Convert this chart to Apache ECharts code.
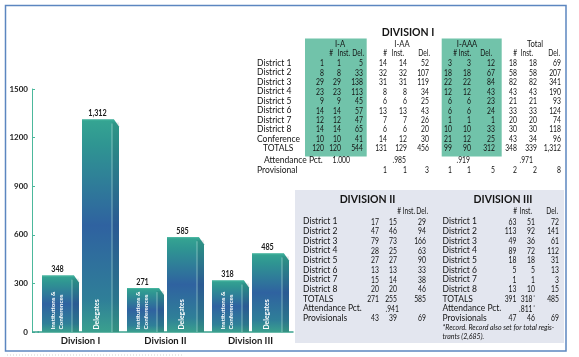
<!DOCTYPE html>
<html><head><meta charset="utf-8">
<script src="https://cdn.jsdelivr.net/npm/echarts@6/dist/echarts.min.js"></script>
<style>html,body{margin:0;padding:0;background:#fff}#c{width:579px;height:357px}</style>
</head><body><div id="c"></div>
<script>
// ---------- DATA ----------
const divisions = ['Division I', 'Division II', 'Division III'];
const instValues = [348, 271, 318];
const delValues = [1312, 585, 485];
const yMin = 0, yMax = 1500, yStep = 300;

// Division I table
const d1RowLabels = ['District 1','District 2','District 3','District 4','District 5','District 6','District 7','District 8','Conference','TOTALS'];
const d1Groups = ['I-A','I-AA','I-AAA','Total'];
const d1SubHeads = ['#','Inst.','Del.'];
const d1IA    = [[1,1,5],[8,8,33],[29,29,138],[23,23,113],[9,9,45],[14,14,57],[12,12,47],[14,14,65],[10,10,41],[120,120,544]];
const d1IAA   = [[14,14,52],[32,32,107],[31,31,119],[8,8,34],[6,6,25],[13,13,43],[7,7,26],[6,6,20],[14,12,30],[131,129,456]];
const d1IAAA  = [[3,3,12],[18,18,67],[22,22,84],[12,12,43],[6,6,23],[6,6,24],[1,1,1],[10,10,33],[21,12,25],[99,90,312]];
const d1Total = [[18,18,69],[58,58,207],[82,82,341],[43,43,190],[21,21,93],[33,33,124],[20,20,74],[30,30,118],[43,34,96],[348,339,1312]];
const d1Attendance = ['1.000','.985','.919','.971'];
const d1Provisional = [null,[1,1,3],[1,1,5],[2,2,8]];

// Division II table
const d2RowLabels = ['District 1','District 2','District 3','District 4','District 5','District 6','District 7','District 8','TOTALS'];
const d2Values = [[17,15,29],[47,46,94],[79,73,166],[28,25,63],[27,27,90],[13,13,33],[15,14,38],[20,20,46],[271,255,585]];
const d2Attendance = '.941';
const d2Provisional = [43,39,69];

// Division III table
const d3RowLabels = ['District 1','District 2','District 3','District 4','District 5','District 6','District 7','District 8','TOTALS'];
const d3Values = [[63,51,72],[113,92,141],[49,36,61],[89,72,112],[18,18,31],[5,5,13],[1,1,3],[13,10,15],[391,'318*',485]];
const d3Attendance = '.811*';
const d3Provisional = [47,46,69];
const d3Footnote = ['*Record. Record also set for total regis-', 'trants (2,685).'];

// ---------- HELPERS ----------
const FONT = 'Lato';
const NUM_SX = 0.74, HEAD_SX = 0.78;
const fmt = v => (typeof v === 'number') ? v.toLocaleString('en-US') : String(v);
function T(text, x, y, o) {
  o = o || {};
  const s = o.size || 8.5, w = o.weight || 'normal', st = o.style || 'normal';
  const str = fmt(text);
  const style = {
    fill: o.fill || '#141414',
    font: st + ' ' + w + ' ' + s + 'px ' + FONT,
    align: o.align || 'right', textAlign: o.align || 'right',
    verticalAlign: 'middle', textVerticalAlign: 'middle'
  };
  if (str.indexOf('*') > 0) {
    const parts = str.split('*');
    style.text = '{n|' + parts[0] + '}{s|*}';
    style.rich = {
      n: { font: st + ' ' + w + ' ' + s + 'px ' + FONT, fill: style.fill },
      s: { font: 'normal 5.5px ' + FONT, fill: style.fill, verticalAlign: 'top', padding: [0,0,3,1] }
    };
  } else style.text = str;
  return { type: 'text', x: x, y: y, scaleX: o.sx || 1, silent: true, z: 10, style: style };
}
const N = (v, x, y) => T(v, x, y, { sx: NUM_SX, size: 9.2 });

const els = [];
// outer frame
els.push({ type: 'rect', shape: { x: 5.5, y: 5.5, width: 560.5, height: 345.5 }, z: 1,
  style: { fill: 'none', stroke: '#5c86c0', lineWidth: 1.5 } });
els.push({ type: 'line', shape: { x1: 7, y1: 355, x2: 183, y2: 355 }, z: 1,
  style: { stroke: '#d0d0d0', lineWidth: 1, lineDash: [1, 2] } });
// Division II/III panel
els.push({ type: 'rect', shape: { x: 295, y: 190, width: 269, height: 153 }, z: 1,
  style: { fill: '#e3e6ef' } });
// green blocks for Div I
els.push({ type: 'rect', shape: { x: 305, y: 38.5, width: 61.7, height: 118 }, z: 1, style: { fill: '#71c3aa' } });
els.push({ type: 'rect', shape: { x: 441.7, y: 38.5, width: 60, height: 118 }, z: 1, style: { fill: '#71c3aa' } });

// ---- Division I table ----
els.push(T('DIVISION I', 408, 32.5, { align: 'center', weight: 'bold', size: 10.5 }));
const d1Data = [d1IA, d1IAA, d1IAAA, d1Total];
const d1ColRight = [[324, 341, 363], [387, 407, 429], [452, 471, 495], [517, 537, 561]];
const d1HeadRight = [[333, 350, 364], [387, 404, 430], [457, 471, 492], [517, 533, 560]];
const d1AttRight = [350, 406, 470, 533];
const d1GroupCenter = [340, 402, 467, 535];
const d1Row0 = 63.3, d1Step = 9.45;
d1Groups.forEach((g, gi) => {
  els.push(T(g, d1GroupCenter[gi], 44, { align: 'center', size: 8.5, sx: 0.9 }));
  d1SubHeads.forEach((h, hi) => els.push(T(h, d1HeadRight[gi][hi], 53.5, { size: 8.5, sx: HEAD_SX })));
  d1Data[gi].forEach((row, ri) => row.forEach((v, ci) =>
    els.push(N(v, d1ColRight[gi][ci], d1Row0 + ri * d1Step))));
  els.push(N(d1Attendance[gi], d1AttRight[gi], 160.5));
  if (d1Provisional[gi]) d1Provisional[gi].forEach((v, ci) => els.push(N(v, d1ColRight[gi][ci], 170.5)));
});
d1RowLabels.forEach((l, ri) => els.push(T(l, l === 'TOTALS' ? 263 : 257, d1Row0 + ri * d1Step, { align: 'left' })));
els.push(T('Attendance Pct.', 264, 160.5, { align: 'left' }));
els.push(T('Provisional', 257, 170.5, { align: 'left' }));

// ---- Division II / III ----
function smallTable(title, titleX, labelX, headRight, colRight, labels, values, att, attRight, prov) {
  els.push(T(title, titleX, 200, { align: 'center', weight: 'bold', size: 10.5 }));
  d1SubHeads.forEach((h, hi) => els.push(T(h, headRight[hi], 211.7, { size: 8.5, sx: HEAD_SX })));
  const r0 = 221.7, st = 9.65;
  labels.forEach((l, ri) => {
    els.push(T(l, labelX, r0 + ri * st, { align: 'left' }));
    values[ri].forEach((v, ci) => els.push(N(v, colRight[ci], r0 + ri * st)));
  });
  els.push(T('Attendance Pct.', labelX, r0 + 9 * st, { align: 'left' }));
  els.push(N(att, attRight, r0 + 9 * st));
  els.push(T('Provisionals', labelX, r0 + 10 * st, { align: 'left' }));
  prov.forEach((v, ci) => els.push(N(v, colRight[ci], r0 + 10 * st)));
}
smallTable('DIVISION II', 367.5, 303, [401, 415, 428], [379, 397, 426], d2RowLabels, d2Values, d2Attendance, 399, d2Provisional);
smallTable('DIVISION III', 503, 442.5, [517, 532, 558], [516.5, 535, 559], d3RowLabels, d3Values, d3Attendance, 535, d3Provisional);
d3Footnote.forEach((l, i) => els.push(T(l, 442.5, 327.3 + i * 9.4, { align: 'left', style: 'italic', size: 7 })));

// ---------- BARS ----------
const barW = 37, barGap = 3;
const instLabel = 'Institutions &\nConferences', delLabel = 'Delegates';
function renderBar(kind) {
  return function (params, api) {
    const cat = api.value(0), v = api.value(1);
    const c = api.coord([cat, v]);
    const b = api.coord([cat, 0]);
    const x0 = kind === 0 ? c[0] - barGap / 2 - barW : c[0] + barGap / 2;
    const top = c[1], bot = b[1];
    const cw = 5, ch = 7, face = 30;
    const grad = { type: 'linear', x: 0, y: 0, x2: 0, y2: 1, colorStops: [
      { offset: 0, color: '#35a592' }, { offset: 0.12, color: '#2f9592' },
      { offset: 0.5, color: '#2f62a0' }, { offset: 0.85, color: '#2f7f98' },
      { offset: 1, color: '#3aa08e' }] };
    return { type: 'group', children: [
      { type: 'polygon', shape: { points: [[x0, top], [x0 + barW - cw, top], [x0 + barW, top + ch], [x0 + barW, bot], [x0, bot]] },
        style: { fill: grad } },
      { type: 'rect', shape: { x: x0 + face, y: top + 3, width: barW - face, height: bot - top - 3 },
        style: { fill: 'rgba(0,0,0,0.08)' } },
      { type: 'line', shape: { x1: x0 + face, y1: top + 4, x2: x0 + face, y2: bot },
        style: { stroke: 'rgba(190,235,225,0.55)', lineWidth: 1 } },
      { type: 'line', shape: { x1: x0, y1: top + 0.5, x2: x0 + barW - cw, y2: top + 0.5 },
        style: { stroke: '#45b59f', lineWidth: 1 } },
      { type: 'text', x: x0 + 15.5, y: top - 1.5, scaleX: 0.85, style: { text: fmt(v), fill: '#1b1b1b',
        font: 'bold 8.5px ' + FONT, align: 'center', textAlign: 'center', verticalAlign: 'bottom', textVerticalAlign: 'bottom' } },
      { type: 'text', x: x0 + 15, y: bot - 2.5, rotation: Math.PI / 2,
        style: { text: kind === 0 ? instLabel : delLabel, fill: '#ffffff', lineHeight: 7.5,
          font: 'bold ' + (kind === 0 ? 6.3 : 6.8) + 'px ' + FONT,
          align: 'left', textAlign: 'left', verticalAlign: 'middle', textVerticalAlign: 'middle' } }
    ] };
  };
}

const chart = echarts.init(document.getElementById('c'), null, { renderer: 'canvas' });
chart.setOption({
  animation: false,
  backgroundColor: '#ffffff',
  grid: { left: 38, right: 286, top: 89, bottom: 25 },
  xAxis: {
    type: 'category', data: divisions,
    axisLine: { lineStyle: { color: '#3aa38f', width: 1.5 } },
    axisTick: { show: false },
    axisLabel: { color: '#1b1b1b', fontFamily: FONT, fontWeight: 'bold', fontSize: 9.5, margin: 4 }
  },
  yAxis: {
    type: 'value', min: yMin, max: yMax, interval: yStep, offset: 6,
    axisLine: { show: true, lineStyle: { color: '#4cb89c', width: 1 } },
    axisTick: { show: true, inside: true, length: 3, lineStyle: { color: '#4cb89c' } },
    splitLine: { show: false },
    axisLabel: { color: '#1b1b1b', fontFamily: FONT, fontWeight: 'bold', fontSize: 8, margin: 4,
      formatter: v => String(v) }
  },
  graphic: {
    elements: els.concat([{ type: 'line', shape: { x1: 32, y1: 332, x2: 39, y2: 332 }, z: 5,
      style: { stroke: '#3aa38f', lineWidth: 1.5 } }])
  },
  series: [
    { type: 'custom', name: 'Institutions & Conferences', renderItem: renderBar(0),
      data: instValues.map((v, i) => [i, v]), encode: { x: 0, y: 1 }, z: 3 },
    { type: 'custom', name: 'Delegates', renderItem: renderBar(1),
      data: delValues.map((v, i) => [i, v]), encode: { x: 0, y: 1 }, z: 3 }
  ]
});
</script></body></html>
